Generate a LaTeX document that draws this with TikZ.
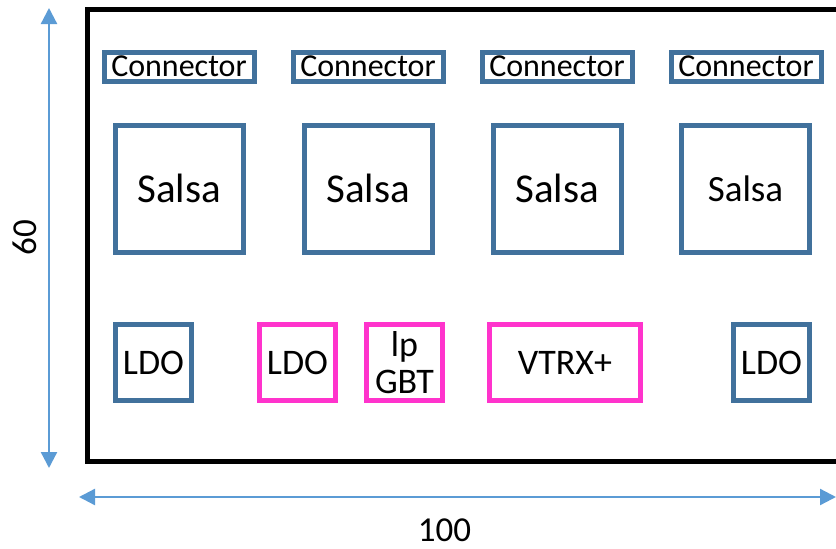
\documentclass[tikz,border=0pt]{standalone}
\usepackage{fontspec}
\setmainfont{Carlito}
\usetikzlibrary{arrows.meta}
\definecolor{boxblue}{HTML}{41719C}
\definecolor{boxpink}{HTML}{FF33CC}
\definecolor{arrblue}{HTML}{5B9BD5}
\begin{document}
\begin{tikzpicture}[x=1pt,y=-1pt,
  bluebox/.style={draw=boxblue,line width=5pt,inner sep=0pt,fill=white},
  pinkbox/.style={draw=boxpink,line width=5pt,inner sep=0pt,fill=white},
  conn/.style={bluebox,minimum width=150pt,minimum height=29pt,font=\fontsize{32}{36}\selectfont},
  salsa/.style={bluebox,minimum width=128pt,minimum height=127pt,font=\fontsize{41}{48}\selectfont},
  smallbox/.style={minimum width=76pt,minimum height=76pt,font=\fontsize{36}{37}\selectfont},
  dimarrow/.style={draw=arrblue,line width=2.3pt,-{Triangle[width=16pt,length=16pt]}},
  dimlabel/.style={font=\fontsize{35}{40}\selectfont,inner sep=0pt}
]
\useasboundingbox (0,0) rectangle (836,549);
\clip (0,0) rectangle (836,549);
% board outline
\draw[line width=5pt] (87.5,9.5) rectangle (845,461.5);
% connectors
\node[conn] (c1) at (179,66.5) {Connector};
\node[conn] (c2) at (368,66.5) {Connector};
\node[conn] (c3) at (557,66.5) {Connector};
\node[conn] (c4) at (746,66.5) {Connector};
% salsa
\node[salsa] (s1) at (179,188.5) {Salsa};
\node[salsa] (s2) at (368,188.5) {Salsa};
\node[salsa] (s3) at (557,188.5) {Salsa};
\node[salsa,font=\fontsize{37}{40}\selectfont] (s4) at (745.5,188.5) {Salsa};
% bottom row
\node[bluebox,smallbox] (l1) at (153.5,362.5) {LDO};
\node[pinkbox,smallbox] (l2) at (297.5,362.5) {LDO};
\node[pinkbox,smallbox,align=center] (gbt) at (404.5,362.5) {lp\\GBT};
\node[pinkbox,smallbox,minimum width=151pt] (vtrx) at (565,362.5) {VTRX+};
\node[bluebox,smallbox] (l3) at (771.5,362.5) {LDO};
% dimensions
\coordinate (vt) at (49,8);
\coordinate (vb) at (49,468);
\coordinate (hl) at (79,497);
\coordinate (hr) at (836,497);
\coordinate (vm) at (49,238);
\coordinate (hm) at (457,497);
\draw[dimarrow] (vm) -- (vt);
\draw[dimarrow] (vm) -- (vb);
\draw[dimarrow] (hm) -- (hl);
\draw[dimarrow] (hm) -- (hr);
\node[dimlabel,rotate=90] (h60) at (24.5,238) {60};
\node[dimlabel] (w100) at (444.5,530) {100};
\end{tikzpicture}
\end{document}
